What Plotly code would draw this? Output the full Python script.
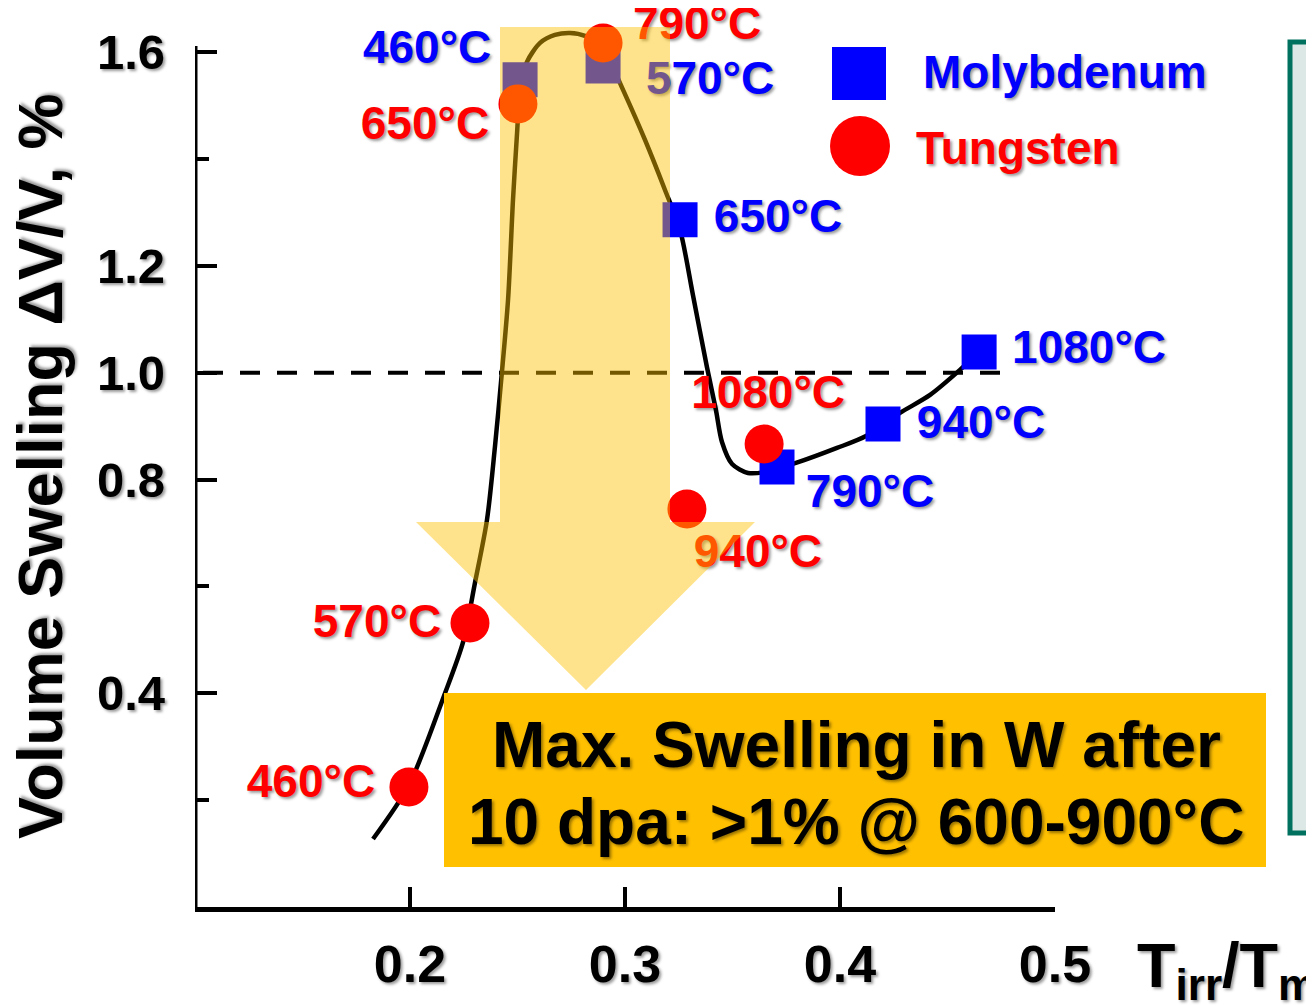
import plotly.graph_objects as go

# ---------------- data ----------------
mo_temps = ["460°C", "570°C", "650°C", "790°C", "940°C", "1080°C"]
mo_x = [0.2512, 0.2898, 0.3256, 0.3707, 0.4200, 0.4647]
mo_y = [1.548, 1.574, 1.286, 0.8235, 0.904, 1.0387]

w_temps = ["460°C", "570°C", "650°C", "790°C", "940°C", "1080°C"]
w_x = [0.1995, 0.2279, 0.2502, 0.2898, 0.3288, 0.3647]
w_y = [0.2246, 0.5315, 1.503, 1.617, 0.745, 0.8666]

curve_x = [0.1828, 0.1995, 0.2158, 0.2247, 0.2302, 0.2358, 0.2395, 0.2428, 0.2456,
           0.2479, 0.2498, 0.2512, 0.2544, 0.2605, 0.2674, 0.2744, 0.2814, 0.2874,
           0.2930, 0.2991, 0.3093, 0.3186, 0.3256, 0.3316, 0.3381, 0.3423, 0.3451,
           0.3498, 0.3572, 0.3651, 0.3795, 0.3986, 0.4121, 0.4279, 0.4419, 0.4558, 0.4647]
curve_y = [0.1273, 0.2283, 0.3949, 0.4960, 0.6064, 0.7243, 0.8609, 1.0032, 1.1361,
           1.3232, 1.4486, 1.5291, 1.5815, 1.6171, 1.6320, 1.6358, 1.6302, 1.6133,
           1.5815, 1.5291, 1.4355, 1.3419, 1.2671, 1.1454, 1.0107, 0.9302, 0.8703,
           0.8291, 0.8123, 0.8141, 0.8310, 0.8591, 0.8815, 0.9246, 0.9583, 1.0051, 1.0387]

x_ticks = [0.2, 0.3, 0.4, 0.5]
x_ticktext = ["0.2", "0.3", "0.4", "0.5"]
y_ticks = [0.4, 0.8, 1.0, 1.2, 1.6]
y_ticktext = ["0.4", "0.8", "1.0", "1.2", "1.6"]
y_minor = [0.2, 0.6, 1.4]
threshold = 1.0

legend_names = ["Molybdenum", "Tungsten"]
box_lines = ["Max. Swelling in W after", "10 dpa: >1% @ 600-900°C"]

# ---------------- layout geometry ----------------
W, H = 1306, 998
ML, MT = 187, 12
PW, PH = 860, 887
MR, MB = W - ML - PW, H - MT - PH
PAGE = 8                      # body margin of the html page
REF_L, REF_T = ML + PAGE, MT + PAGE
XR = [0.1, 0.5]
YR = [0.0, 1.66]
sx = PW / (XR[1] - XR[0])   # px per x unit
sy = PH / (YR[1] - YR[0])   # px per y unit

def px2x(px):
    return XR[0] + (px - REF_L) / sx

def px2y(py):
    return YR[0] + (REF_T + PH - py) / sy

def ppx(px):
    return (px - REF_L) / PW

def ppy(py):
    return (REF_T + PH - py) / PH

# label offsets (px) relative to their point
mo_off = [(-93, -28), (107, 17), (98, 1), (93, 29), (98, 3), (33, 0)]
mo_pos = ["middle center"] * 5 + ["middle right"]
w_off = [(-98, -1), (-93, 2), (-93, 24), (94, -15), (71, 47), (4, -47)]

BLUE = "#0000FF"
RED = "#FF0000"
FONT = "Liberation Sans"
SHADOW = "2px 2px 3px rgba(0,0,0,0.40)"

fig = go.Figure()

# curve
fig.add_trace(go.Scatter(x=curve_x, y=curve_y, mode="lines",
                         line=dict(color="black", width=4.5, shape="spline", smoothing=0.8),
                         hoverinfo="skip", showlegend=False))
# Mo squares
fig.add_trace(go.Scatter(x=mo_x, y=mo_y, mode="markers", name=legend_names[0],
                         marker=dict(symbol="square", size=35, color=BLUE, line=dict(width=0)),
                         showlegend=False))
# W circles
fig.add_trace(go.Scatter(x=w_x, y=w_y, mode="markers", name=legend_names[1],
                         marker=dict(symbol="circle", size=39, color=RED, line=dict(width=0)),
                         showlegend=False))

# temperature labels as text traces
fig.add_trace(go.Scatter(
    x=[x + dx / sx for x, (dx, dy) in zip(mo_x, mo_off)],
    y=[y - dy / sy for y, (dx, dy) in zip(mo_y, mo_off)],
    mode="text", text=mo_temps, textposition=mo_pos,
    textfont=dict(family=FONT, size=46, color=BLUE, weight="bold", shadow=SHADOW),
    hoverinfo="skip", showlegend=False, cliponaxis=False))
fig.add_trace(go.Scatter(
    x=[x + dx / sx for x, (dx, dy) in zip(w_x, w_off)],
    y=[y - dy / sy for y, (dx, dy) in zip(w_y, w_off)],
    mode="text", text=w_temps, textposition="middle center",
    textfont=dict(family=FONT, size=46, color=RED, weight="bold", shadow=SHADOW),
    hoverinfo="skip", showlegend=False, cliponaxis=False))

shapes = []
# y axis line
shapes.append(dict(type="line", xref="x", yref="y", x0=XR[0], x1=XR[0], y0=0, y1=px2y(46),
                   line=dict(color="black", width=5), layer="above"))
# dashed 1% line
shapes.append(dict(type="line", xref="x", yref="y", x0=px2x(203), x1=px2x(1008),
                   y0=threshold, y1=threshold,
                   line=dict(color="black", width=4, dash="20px,17px"), layer="below"))
# big translucent arrow
ax = [px2x(v) for v in (500, 670, 755, 586, 416)]
ay = [px2y(v) for v in (27, 522, 690)]
path = (f"M {ax[0]},{ay[0]} L {ax[1]},{ay[0]} L {ax[1]},{ay[1]} L {ax[2]},{ay[1]} "
        f"L {ax[3]},{ay[2]} L {ax[4]},{ay[1]} L {ax[0]},{ay[1]} Z")
shapes.append(dict(type="path", xref="x", yref="y", path=path,
                   fillcolor="#FFC000", opacity=0.45, line=dict(width=0), layer="above"))
# orange message box
shapes.append(dict(type="rect", xref="paper", yref="paper",
                   x0=ppx(444), x1=ppx(1266), y0=ppy(867), y1=ppy(693),
                   fillcolor="#FFC000", line=dict(width=0), layer="above"))
# legend keys
shapes.append(dict(type="rect", xref="paper", yref="paper", x0=ppx(832), x1=ppx(886),
                   y0=ppy(100), y1=ppy(47), fillcolor=BLUE, line=dict(width=0)))
shapes.append(dict(type="circle", xref="paper", yref="paper", x0=ppx(830), x1=ppx(890),
                   y0=ppy(176), y1=ppy(116), fillcolor=RED, line=dict(width=0)))
# green box at right
shapes.append(dict(type="rect", xref="paper", yref="paper",
                   x0=ppx(1290), x1=ppx(1340), y0=ppy(833), y1=ppy(42),
                   fillcolor="#DCE8E5", line=dict(color="#00715F", width=5)))

annotations = []
annotations.append(dict(text=legend_names[0], xref="paper", yref="paper", x=ppx(921), y=ppy(72),
                        xanchor="left", yanchor="middle", showarrow=False,
                        font=dict(family=FONT, size=46, color=BLUE, weight="bold", shadow=SHADOW)))
annotations.append(dict(text=legend_names[1], xref="paper", yref="paper", x=ppx(914), y=ppy(148),
                        xanchor="left", yanchor="middle", showarrow=False,
                        font=dict(family=FONT, size=46, color=RED, weight="bold", shadow=SHADOW)))
for line, yy in zip(box_lines, (745, 822)):
    annotations.append(dict(text=line, xref="paper", yref="paper", x=ppx(856), y=ppy(yy),
                            xanchor="center", yanchor="middle", showarrow=False,
                            font=dict(family=FONT, size=64, color="black", weight="bold",
                                      shadow=SHADOW)))
# axis titles
annotations.append(dict(text="Volume Swelling ΔV/V, %", xref="paper", yref="paper",
                        x=ppx(40), y=ppy(467), textangle=-90,
                        xanchor="center", yanchor="middle", showarrow=False,
                        font=dict(family=FONT, size=63, color="black", weight="bold", shadow=SHADOW)))
annotations.append(dict(text="T<sub>irr</sub>/T<sub>m</sub>", xref="paper", yref="paper",
                        x=ppx(1135), y=ppy(970),
                        xanchor="left", yanchor="middle", showarrow=False,
                        font=dict(family=FONT, size=63, color="black", weight="bold", shadow=SHADOW)))

fig.update_layout(
    width=W, height=H,
    margin=dict(l=ML, r=MR, t=MT, b=MB, autoexpand=False),
    paper_bgcolor="white", plot_bgcolor="white",
    showlegend=False,
    shapes=shapes, annotations=annotations,
    xaxis=dict(range=XR, showgrid=False, zeroline=False,
               showline=True, linecolor="black", linewidth=5,
               tickmode="array", tickvals=x_ticks, ticktext=x_ticktext,
               ticks="inside", ticklen=20, tickwidth=4, tickcolor="black",
               ticklabelstandoff=8,
               tickfont=dict(family=FONT, size=52, color="black", weight="bold", shadow=SHADOW)),
    yaxis=dict(range=YR, showgrid=False, zeroline=False, showline=False,
               tickmode="array", tickvals=y_ticks, ticktext=y_ticktext,
               ticks="inside", ticklen=22, tickwidth=4, tickcolor="black",
               ticklabelstandoff=29,
               minor=dict(tickmode="array", tickvals=y_minor, ticks="inside",
                          ticklen=14, tickwidth=4, tickcolor="black"),
               tickfont=dict(family=FONT, size=49, color="black", weight="bold", shadow=SHADOW)),
)

fig.write_html("out.html")
